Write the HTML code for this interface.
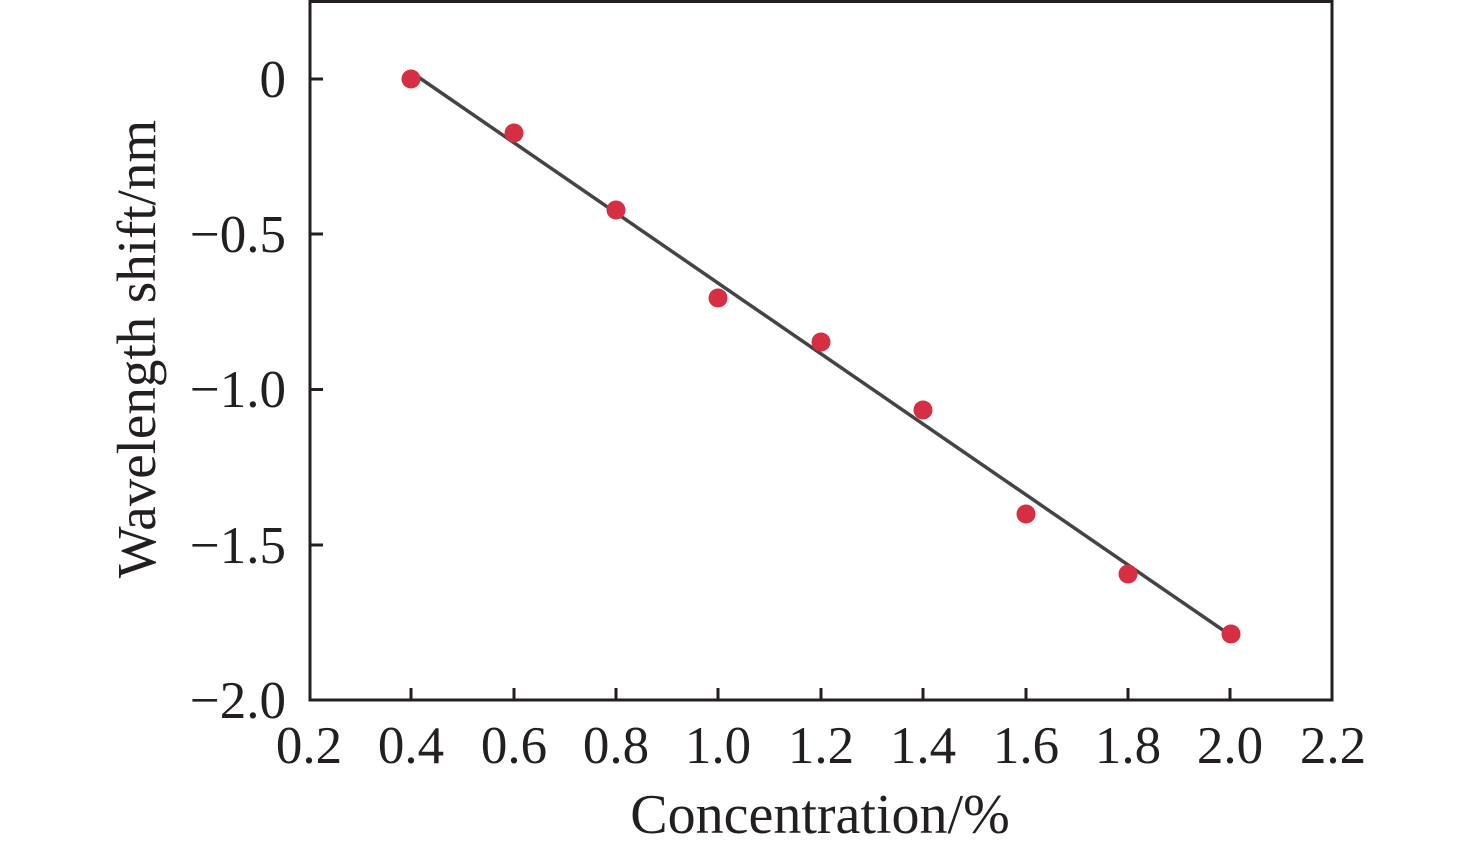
<!DOCTYPE html>
<html><head><style>body{margin:0;background:#fff}</style></head><body>
<svg width="1476" height="849" viewBox="0 0 1476 849" xmlns="http://www.w3.org/2000/svg" font-family="Liberation Serif, serif">
<rect x="310" y="1.5" width="1022" height="698.5" fill="none" stroke="#231f20" stroke-width="3"/>
<g stroke="#231f20" stroke-width="3">
<line x1="411" y1="700" x2="411" y2="688"/><line x1="514" y1="700" x2="514" y2="688"/><line x1="616" y1="700" x2="616" y2="688"/><line x1="718" y1="700" x2="718" y2="688"/><line x1="821" y1="700" x2="821" y2="688"/><line x1="923" y1="700" x2="923" y2="688"/><line x1="1026" y1="700" x2="1026" y2="688"/><line x1="1128" y1="700" x2="1128" y2="688"/><line x1="1230" y1="700" x2="1230" y2="688"/>
<line x1="310" y1="79" x2="323" y2="79"/><line x1="310" y1="234" x2="323" y2="234"/><line x1="310" y1="389.5" x2="323" y2="389.5"/><line x1="310" y1="545" x2="323" y2="545"/>
</g>
<line x1="411" y1="72" x2="1230" y2="635" stroke="#444" stroke-width="3.5"/>
<g fill="#d62e42">
<circle cx="411" cy="79" r="9.5"/><circle cx="514" cy="133" r="9.5"/><circle cx="616" cy="210" r="9.5"/><circle cx="718" cy="298" r="9.5"/><circle cx="821" cy="342" r="9.5"/><circle cx="923" cy="410" r="9.5"/><circle cx="1026" cy="514" r="9.5"/><circle cx="1128" cy="574" r="9.5"/><circle cx="1231" cy="634" r="9.5"/>
</g>
<g font-size="53" fill="#231f20" text-anchor="middle">
<text x="309" y="763">0.2</text><text x="411" y="763">0.4</text><text x="514" y="763">0.6</text><text x="616" y="763">0.8</text><text x="718" y="763">1.0</text><text x="821" y="763">1.2</text><text x="923" y="763">1.4</text><text x="1026" y="763">1.6</text><text x="1128" y="763">1.8</text><text x="1230" y="763">2.0</text><text x="1333" y="763">2.2</text>
</g>
<g font-size="53" fill="#231f20" text-anchor="end">
<text x="286" y="97">0</text><text x="286" y="252">−0.5</text><text x="286" y="407">−1.0</text><text x="286" y="563">−1.5</text><text x="286" y="718">−2.0</text>
</g>
<text x="820" y="833" font-size="56" text-anchor="middle" fill="#231f20">Concentration/%</text>
<text transform="translate(155,349) rotate(-90)" font-size="55" text-anchor="middle" fill="#231f20">Wavelength shift/nm</text>
</svg>
</body></html>
